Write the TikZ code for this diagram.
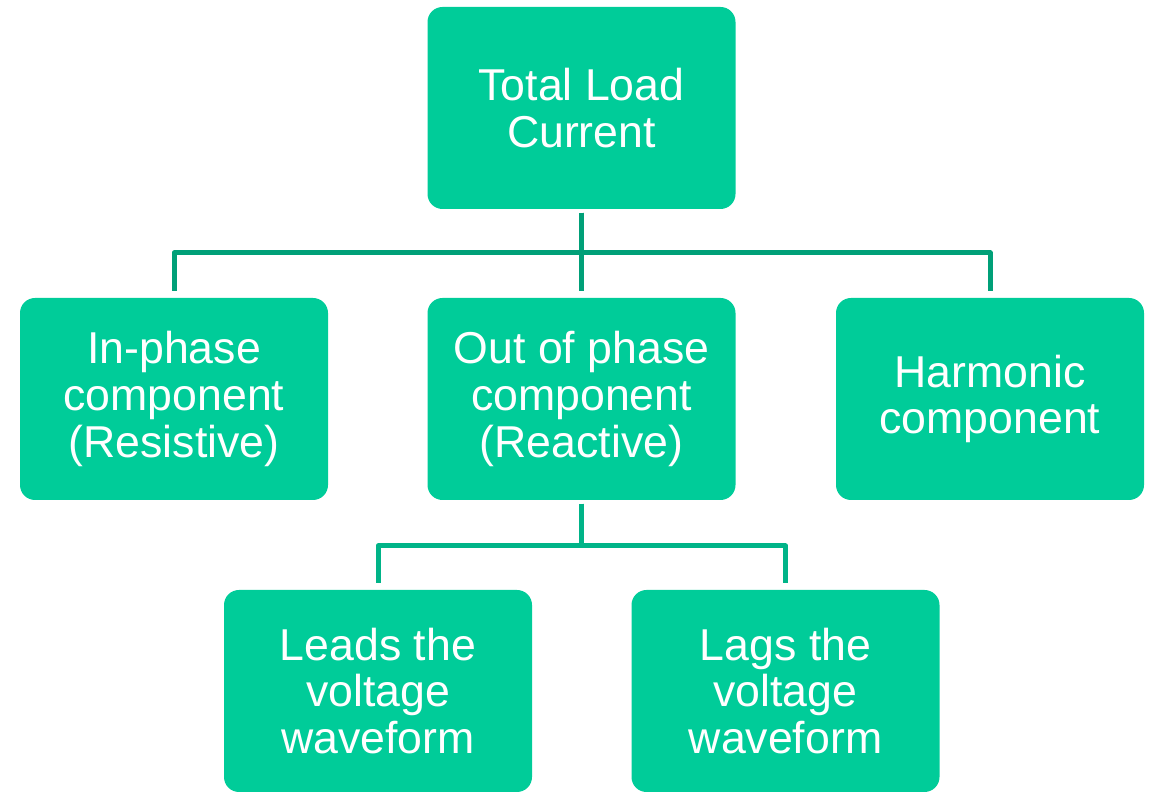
\documentclass[tikz,border=0pt]{standalone}
\usepackage{fontspec}
\setmainfont{Liberation Sans}
\definecolor{boxgreen}{RGB}{0,204,153}
\definecolor{linegreen}{RGB}{0,160,120}
\definecolor{linegreenb}{RGB}{0,180,136}
\tikzset{
	block/.style={draw=none, fill=boxgreen, rounded corners=0.15cm, minimum width=3.08cm, minimum height=2.02cm, text=white, align=center, font=\fontsize{12.7}{13.3}\selectfont, inner sep=0pt},
	link/.style={line width=0.05cm, line join=round, shorten >=0.06cm, shorten <=0.03cm}
}
\begin{document}
\begin{tikzpicture}
	\useasboundingbox (0,0) rectangle (11.52,-7.92);
	\node[block] (total) at (5.815,-1.08) {Total Load\\Current};
	\node[block] (inphase) at (1.74,-3.99) {In-phase\\component\\(Resistive)};
	\node[block] (outphase) at (5.815,-3.99) {Out of phase\\component\\(Reactive)};
	\node[block] (harmonic) at (9.90,-3.99) {Harmonic\\component};
	\node[block] (leads) at (3.78,-6.91) {Leads the\\voltage\\waveform};
	\node[block] (lags) at (7.855,-6.91) {Lags the\\voltage\\waveform};
	\coordinate (bus) at (5.815,-2.53);
	\coordinate (busb) at (5.815,-5.46);
	\draw[link, color=linegreen] (total.south) -- (bus) -| (inphase.north);
	\draw[link, color=linegreen] (total.south) -- (bus) -| (harmonic.north);
	\draw[link, color=linegreen] (total.south) -- (outphase.north);
	\draw[link, color=linegreenb] (outphase.south) -- (busb) -| (leads.north);
	\draw[link, color=linegreenb] (outphase.south) -- (busb) -| (lags.north);
\end{tikzpicture}
\end{document}
